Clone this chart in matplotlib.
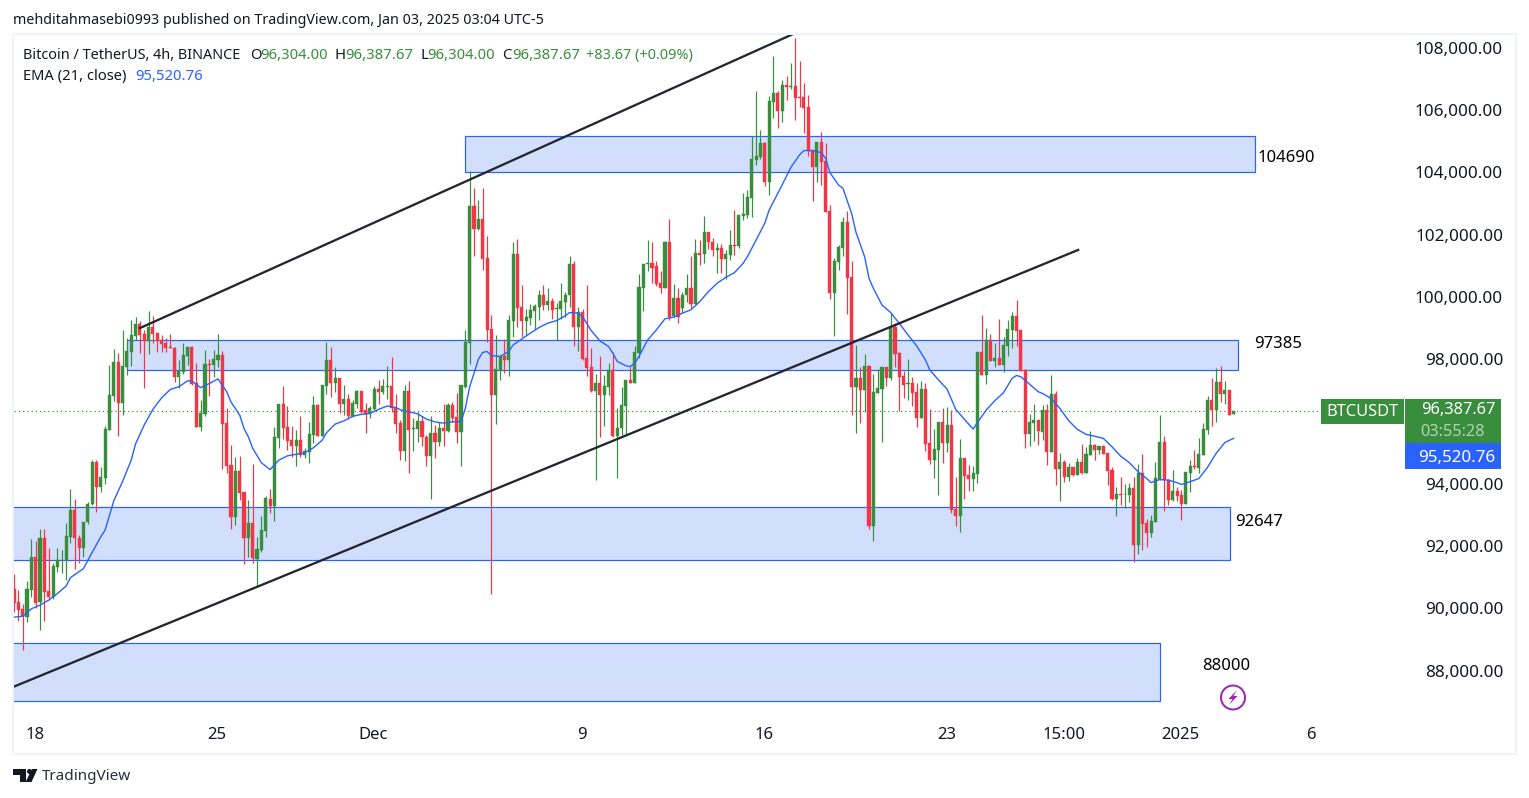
import numpy as np
import matplotlib
matplotlib.use('Agg')
import matplotlib.pyplot as plt
from matplotlib.patches import Rectangle, Polygon, Circle

plt.rcParams['font.family'] = ['Noto Sans', 'DejaVu Sans']

# prices in thousands, one line per ten 4h candles
opens = [
    90.68, 90.27, 90.03, 89.79, 90.65, 91.71, 90.27, 92.32, 90.62, 90.44,
    91.40, 91.61, 91.61, 92.36, 93.22, 92.33, 91.99, 92.84, 93.43, 94.76,
    93.97, 94.25, 95.79, 96.88, 97.97, 96.66, 97.82, 98.30, 98.81, 99.19,
    98.87, 98.65, 99.10, 98.91, 98.67, 98.59, 98.44, 98.43, 97.50, 97.66,
    98.16, 98.46, 97.30, 95.89, 96.30, 97.90, 97.87, 98.03, 98.19, 96.00,
    94.66, 93.00, 94.47, 93.79, 92.33, 92.80, 91.64, 91.95, 92.55, 93.59,
    93.35, 95.54, 96.62, 95.88, 95.46, 95.28, 95.46, 94.98, 95.09, 95.62,
    96.59, 95.60, 97.20, 98.03, 97.30, 97.47, 96.62, 96.78, 96.23, 96.62,
    97.04, 96.43, 96.30, 96.46, 97.10, 97.00, 97.18, 97.20, 96.50, 96.00,
    95.13, 97.04, 95.83, 95.83, 96.08, 95.56, 94.97, 95.69, 95.42, 95.85,
    95.76, 96.60, 96.22, 95.74, 97.18, 98.57, 102.98, 102.23, 102.57, 101.31,
    99.02, 96.92, 97.72, 98.15, 98.04, 99.30, 101.44, 99.74, 99.29, 99.40,
    99.62, 99.75, 100.11, 99.81, 99.93, 99.68, 99.68, 99.91, 100.11, 101.12,
    99.08, 99.57, 98.10, 97.82, 97.04, 97.29, 96.92, 97.18, 97.72, 95.61,
    95.84, 96.57, 97.40, 97.31, 98.27, 100.36, 101.12, 101.14, 101.04, 100.50,
    100.36, 101.81, 99.45, 100.03, 99.70, 100.11, 100.35, 99.84, 101.47, 101.43,
    102.13, 101.84, 101.57, 101.64, 101.28, 101.41, 101.73, 101.70, 102.67, 102.69,
    103.25, 104.46, 104.56, 105.01, 103.75, 106.32, 106.61, 106.03, 106.86, 106.80,
    106.83, 106.47, 106.47, 106.15, 104.78, 104.24, 105.03, 104.42, 102.82, 100.20,
    101.19, 101.64, 102.48, 100.70, 97.17, 97.46, 97.07, 97.84, 92.72, 96.99,
    97.12, 97.81, 97.46, 99.08, 98.27, 97.52, 97.28, 97.29, 97.01, 96.19,
    97.11, 95.36, 94.83, 95.15, 96.05, 95.36, 95.95, 93.24, 93.03, 94.88,
    94.35, 94.22, 94.38, 98.29, 97.55, 98.68, 98.00, 98.09, 97.88, 98.49,
    99.00, 99.45, 99.00, 97.72, 95.66, 96.03, 96.11, 95.73, 96.43, 95.07,
    96.94, 94.53, 94.76, 94.28, 94.60, 94.34, 94.76, 94.41, 94.98, 95.30,
    95.14, 95.27, 95.04, 94.50, 93.57, 93.73, 93.72, 93.71, 93.92, 92.09,
    94.41, 92.80, 92.47, 92.84, 94.21, 95.40, 94.20, 93.54, 93.83, 93.70,
    93.41, 94.41, 94.63, 94.57, 94.98, 95.79, 96.75, 96.43, 97.33, 96.94,
    97.07, 96.304,
]
closes = [
    90.24, 90.01, 89.81, 90.68, 91.71, 90.24, 92.32, 90.60, 90.44, 91.42,
    91.61, 91.63, 92.38, 93.22, 92.31, 92.01, 92.85, 93.43, 94.77, 93.97,
    94.28, 95.82, 96.91, 97.97, 96.66, 97.84, 98.32, 98.83, 99.19, 98.83,
    98.65, 99.10, 98.87, 98.65, 98.55, 98.43, 98.43, 97.50, 97.69, 98.19,
    98.46, 97.26, 95.89, 96.33, 97.90, 97.88, 98.06, 98.19, 95.98, 94.63,
    93.00, 94.47, 93.77, 92.33, 92.80, 91.67, 91.97, 92.58, 93.61, 93.35,
    95.56, 96.62, 95.86, 95.44, 95.28, 95.46, 94.98, 95.11, 95.66, 96.59,
    95.60, 97.23, 98.03, 97.30, 97.47, 96.62, 96.78, 96.23, 96.66, 97.04,
    96.37, 96.30, 96.48, 97.10, 97.00, 97.20, 97.20, 96.48, 95.98, 95.12,
    97.04, 95.79, 95.85, 96.08, 95.55, 94.97, 95.69, 95.42, 95.85, 95.76,
    96.60, 96.19, 95.74, 97.22, 98.60, 102.98, 102.23, 102.57, 101.29, 99.00,
    96.92, 97.74, 98.15, 98.04, 99.32, 101.44, 99.72, 99.30, 99.41, 99.65,
    99.78, 100.11, 99.81, 99.93, 99.65, 99.70, 99.93, 100.13, 101.12, 99.08,
    99.57, 98.06, 97.79, 97.04, 97.29, 96.92, 97.21, 97.72, 95.61, 95.86,
    96.60, 97.40, 97.31, 98.30, 100.39, 101.12, 101.14, 101.00, 100.48, 100.36,
    101.81, 99.43, 100.03, 99.43, 100.13, 100.35, 99.84, 101.47, 101.41, 102.13,
    101.81, 101.57, 101.64, 101.28, 101.44, 101.73, 101.70, 102.69, 102.73, 103.28,
    104.49, 104.59, 105.01, 103.75, 106.35, 106.61, 106.03, 106.86, 106.81, 106.83,
    106.46, 106.45, 106.13, 104.76, 104.24, 105.03, 104.40, 102.80, 100.18, 101.21,
    101.67, 102.48, 100.68, 97.18, 97.46, 97.07, 97.84, 92.72, 97.01, 97.13,
    97.81, 97.46, 99.11, 98.23, 97.50, 97.23, 97.29, 96.99, 96.19, 97.11,
    95.34, 94.83, 95.18, 96.05, 95.36, 95.95, 93.22, 93.03, 94.88, 94.31,
    94.22, 94.40, 98.29, 97.55, 98.68, 98.02, 98.09, 97.88, 98.52, 99.03,
    99.45, 98.97, 97.69, 95.66, 96.05, 96.11, 95.76, 96.43, 95.09, 96.94,
    94.53, 94.76, 94.28, 94.60, 94.34, 94.76, 94.41, 95.02, 95.30, 95.14,
    95.27, 95.02, 94.47, 93.57, 93.73, 93.71, 93.73, 93.92, 92.09, 94.41,
    92.77, 92.47, 92.87, 94.25, 95.40, 94.18, 93.54, 93.83, 93.67, 93.41,
    94.44, 94.63, 94.60, 95.02, 95.82, 96.75, 96.43, 97.33, 96.96, 97.07,
    96.27, 96.388,
]
highs = [
    91.18, 90.65, 90.20, 90.94, 92.28, 92.22, 92.61, 92.61, 91.99, 91.51,
    91.99, 91.95, 92.79, 93.91, 93.57, 92.41, 92.85, 93.48, 94.82, 94.82,
    94.61, 95.92, 97.87, 98.39, 98.25, 99.00, 98.73, 99.32, 99.42, 99.28,
    99.00, 99.60, 99.44, 98.91, 98.83, 98.73, 98.87, 98.46, 98.03, 98.59,
    98.46, 98.48, 97.93, 96.75, 98.37, 98.06, 98.37, 98.87, 98.32, 96.48,
    95.30, 94.93, 94.96, 93.79, 93.54, 94.69, 92.34, 93.02, 93.67, 93.88,
    95.89, 96.62, 97.20, 96.56, 95.92, 95.79, 96.25, 95.20, 96.04, 96.88,
    96.64, 97.23, 98.62, 98.44, 97.80, 97.47, 97.23, 96.96, 96.75, 97.07,
    97.04, 96.67, 96.56, 97.20, 97.41, 97.44, 97.84, 98.12, 96.93, 96.11,
    97.24, 97.37, 96.17, 96.36, 96.24, 95.63, 96.25, 95.95, 96.06, 96.63,
    96.65, 96.70, 96.97, 97.22, 99.00, 104.11, 103.55, 103.18, 103.55, 102.02,
    99.48, 98.84, 98.15, 98.71, 99.48, 101.83, 101.92, 100.45, 99.68, 99.84,
    99.83, 100.29, 100.45, 100.34, 100.02, 99.86, 100.52, 100.23, 101.38, 101.22,
    99.75, 99.68, 100.45, 98.41, 97.59, 98.15, 97.56, 97.93, 98.29, 96.49,
    97.18, 97.40, 97.83, 98.47, 100.80, 101.12, 101.89, 101.83, 101.22, 100.88,
    101.86, 102.57, 100.48, 100.34, 100.23, 100.80, 101.38, 101.92, 101.89, 102.66,
    102.16, 101.95, 101.79, 101.76, 101.57, 102.21, 102.86, 102.69, 103.39, 103.50,
    105.24, 106.67, 105.42, 105.05, 106.52, 107.80, 106.67, 107.03, 107.15, 107.58,
    108.37, 107.63, 106.92, 106.54, 104.78, 105.03, 105.36, 104.99, 103.01, 101.32,
    101.73, 102.64, 102.82, 101.22, 98.52, 97.82, 98.23, 97.88, 97.59, 97.74,
    97.82, 97.81, 99.56, 99.21, 98.30, 97.69, 98.07, 97.48, 97.29, 97.37,
    97.29, 96.46, 95.81, 96.05, 96.51, 96.54, 96.43, 94.27, 95.49, 94.88,
    94.67, 94.63, 98.29, 99.48, 99.05, 98.87, 98.57, 99.34, 98.79, 99.32,
    99.58, 99.96, 99.00, 97.75, 96.30, 96.62, 96.11, 96.59, 96.62, 97.55,
    97.04, 95.04, 94.82, 94.72, 94.61, 94.88, 95.34, 95.25, 95.76, 95.34,
    95.27, 95.30, 95.04, 94.59, 93.97, 94.29, 94.05, 94.10, 94.29, 94.69,
    95.02, 92.92, 93.06, 94.76, 96.27, 95.59, 94.23, 94.50, 93.95, 93.86,
    94.44, 94.82, 95.14, 95.52, 96.03, 96.88, 97.46, 97.77, 97.84, 97.36,
    97.07, 96.388,
]
lows = [
    89.95, 89.66, 88.72, 89.63, 90.44, 90.06, 89.37, 89.66, 90.33, 90.38,
    91.24, 91.21, 90.99, 92.17, 91.33, 91.53, 91.70, 92.76, 93.38, 93.16,
    93.81, 94.05, 95.79, 96.72, 95.60, 96.27, 97.57, 97.84, 98.67, 98.25,
    97.14, 98.22, 98.57, 98.30, 98.30, 98.30, 98.43, 97.34, 97.15, 97.60,
    97.87, 97.23, 95.89, 95.76, 96.23, 96.88, 97.50, 97.82, 94.54, 94.42,
    92.62, 92.74, 93.54, 91.48, 91.72, 91.53, 90.78, 91.88, 92.36, 93.13,
    92.87, 95.20, 95.49, 95.14, 94.93, 94.64, 94.93, 94.88, 94.72, 95.38,
    95.59, 95.59, 96.96, 96.86, 97.02, 96.32, 96.27, 96.13, 96.21, 96.48,
    96.32, 95.70, 96.19, 96.43, 96.64, 96.96, 96.80, 96.37, 95.68, 94.82,
    94.78, 94.42, 95.13, 95.42, 95.29, 94.62, 93.57, 94.88, 95.28, 95.26,
    95.72, 96.06, 95.36, 94.62, 97.15, 97.91, 101.36, 102.21, 100.93, 98.63,
    90.52, 95.99, 97.40, 97.61, 97.53, 98.79, 99.11, 98.79, 98.84, 99.16,
    99.03, 99.32, 99.65, 99.65, 99.36, 98.68, 99.35, 99.43, 99.75, 98.47,
    98.34, 98.04, 97.53, 97.02, 94.17, 95.58, 95.93, 96.92, 95.58, 94.26,
    95.63, 95.63, 97.29, 97.29, 98.09, 99.62, 100.88, 100.50, 100.42, 100.20,
    100.36, 99.32, 99.43, 99.24, 99.54, 99.91, 99.70, 99.84, 101.09, 101.14,
    101.59, 101.36, 100.84, 100.84, 100.63, 101.25, 101.41, 101.62, 102.53, 102.61,
    102.64, 104.30, 104.49, 103.63, 103.33, 105.79, 105.49, 105.69, 106.38, 106.73,
    105.74, 106.15, 105.33, 104.59, 103.14, 103.74, 103.65, 102.80, 99.98, 98.82,
    100.93, 101.38, 99.51, 96.27, 95.70, 96.03, 96.38, 92.61, 92.24, 96.97,
    95.41, 97.20, 97.40, 97.80, 96.40, 96.83, 96.75, 96.56, 95.90, 96.17,
    95.13, 94.70, 94.26, 93.70, 94.72, 95.09, 93.14, 92.72, 92.53, 93.56,
    93.84, 93.84, 94.10, 97.55, 97.27, 98.02, 97.82, 97.88, 97.66, 98.17,
    98.41, 98.50, 97.69, 95.22, 95.26, 95.44, 95.31, 95.47, 94.66, 95.07,
    94.02, 93.52, 94.13, 94.16, 94.31, 94.34, 94.37, 94.41, 94.98, 94.82,
    95.02, 95.02, 94.02, 93.54, 93.04, 93.38, 93.27, 93.49, 91.56, 91.81,
    91.93, 92.04, 92.36, 92.84, 94.18, 93.20, 93.38, 93.52, 93.52, 92.90,
    93.41, 93.79, 94.53, 94.41, 94.98, 95.66, 95.91, 96.05, 96.70, 96.64,
    96.27, 96.304,
]

ema_bars = [
    1, 3, 5, 7, 9, 11, 13, 14, 17, 19, 21, 22, 24, 26, 28, 29, 31, 33, 35, 37,
    39, 41, 42, 44, 46, 48, 50, 51, 53, 54, 55, 56, 58, 60, 62, 64, 66, 68, 70, 72,
    73, 75, 77, 79, 81, 83, 85, 87, 89, 90, 92, 94, 96, 98, 100, 102, 104, 105, 106, 107,
    108, 109, 110, 111, 113, 115, 116, 118, 120, 122, 124, 126, 128, 129, 131, 132, 134, 136, 138, 139,
    140, 142, 143, 144, 145, 147, 149, 151, 153, 155, 157, 159, 161, 163, 165, 167, 169, 170, 172, 174,
    175, 176, 178, 180, 182, 183, 185, 187, 188, 189, 191, 192, 194, 195, 197, 198, 199, 201, 203, 205,
    207, 209, 211, 212, 214, 216, 218, 220, 222, 223, 225, 227, 229, 231, 232, 233, 235, 237, 238, 240,
    242, 244, 246, 248, 250, 252, 254, 256, 258, 260, 262, 263, 265, 267, 269, 270, 272, 274, 276, 278,
    280, 282,
]
ema_values = [
    89.78, 89.81, 90.05, 90.17, 90.33, 90.54, 90.78, 91.05, 91.34, 91.86, 92.36, 92.58, 93.52, 94.13, 94.82, 95.34, 95.95, 96.45, 96.82, 97.09,
    97.18, 97.37, 97.36, 97.15, 97.28, 97.43, 97.02, 96.69, 96.27, 95.84, 95.57, 95.20, 94.74, 94.52, 94.82, 94.96, 95.01, 95.06, 95.22, 95.46,
    95.70, 95.98, 96.08, 96.23, 96.29, 96.32, 96.45, 96.56, 96.51, 96.44, 96.37, 96.31, 96.14, 96.05, 96.01, 96.05, 96.06, 96.49, 97.18, 97.61,
    98.06, 98.28, 98.31, 98.18, 98.15, 98.31, 98.52, 98.71, 98.90, 99.08, 99.22, 99.30, 99.45, 99.56, 99.54, 99.43, 98.98, 98.65, 98.47, 98.25,
    97.99, 97.85, 97.83, 97.93, 98.15, 98.68, 99.00, 99.36, 99.41, 99.54, 99.65, 99.91, 100.23, 100.50, 100.69, 100.84, 101.14, 101.36, 101.89, 102.43,
    102.85, 103.12, 103.66, 104.22, 104.62, 104.76, 104.76, 104.69, 104.51, 104.05, 103.65, 103.55, 102.74, 102.14, 101.35, 100.66, 100.34, 99.80, 99.56, 99.21,
    98.84, 98.49, 98.04, 97.72, 97.40, 97.10, 96.45, 96.13, 95.82, 96.03, 96.43, 96.73, 96.99, 97.45, 97.54, 97.50, 97.26, 97.02, 96.96, 96.80,
    96.48, 96.09, 95.81, 95.65, 95.59, 95.52, 95.25, 94.95, 94.74, 94.45, 94.23, 94.10, 94.20, 94.18, 94.10, 94.04, 94.13, 94.23, 94.59, 95.04,
    95.39, 95.5208,
]

# shaded zones: first bar, last bar, low, high, label
zone_labels = ['104690', '97385', '92647', '88000']
zone_starts = [104.9, 27.0, 0.5, 0.5]
zone_ends = [286.9, 283.1, 281.1, 265.1]
zone_lows = [104.07, 97.71, 91.61, 87.09]
zone_highs = [105.23, 98.67, 93.31, 88.95]
zone_label_x = [1258, 1254, 1235, 1202]
zone_label_y = [158.5, 344.5, 522.5, 665.5]

trend_bars = [(30.0, 181.0), (0.77, 246.2)]
trend_prices = [(99.06, 108.53), (87.54, 101.57)]

# the 96,000 label sits behind the price tag in the original, so it is left out
price_ticks = [88, 90, 92, 94, 98, 100, 102, 104, 106, 108]
time_ticks = [5.84, 47.84, 83.84, 131.84, 173.84, 215.84, 242.84, 269.84, 299.84]
time_labels = ['18', '25', 'Dec', '9', '16', '23', '15:00', '2025', '6']
bold_labels = ['Dec', '2025']

last_price = 96.38767

GREEN = '#388E3C'
RED = '#F23645'
BLUE = '#2962FF'
DARK = '#131722'
ZONE = '#D1DFFD'
PX = 0.72

W, H = 1529, 798
fig = plt.figure(figsize=(W / 100, H / 100), dpi=100)
ax = fig.add_axes([14 / W, 1 - 752 / H, 1501 / W, 717 / H])

bars = np.arange(1, len(opens) + 1)
o = np.array(opens) * 1000
c = np.array(closes) * 1000
h = np.array(highs) * 1000
l = np.array(lows) * 1000
cols = [GREEN if b >= a else RED for a, b in zip(o, c)]

ax.vlines(bars, l, h, colors=cols, linewidth=1.2 * PX, zorder=3, snap=True)
ax.bar(bars, np.abs(c - o), bottom=np.minimum(o, c), width=3.1 / 4.34, color=cols,
       edgecolor=cols, linewidth=0.4 * PX, zorder=4)
ax.plot(ema_bars, np.array(ema_values) * 1000, color=BLUE, linewidth=1.4 * PX, zorder=5)

ax.hlines(last_price * 1000, 0, 301.9, colors=GREEN, linewidth=1.2 * PX,
          linestyles=(0, (1, 2.5)), zorder=2)

for i in range(len(zone_labels)):
    ax.add_patch(Rectangle((zone_starts[i], zone_lows[i] * 1000),
                           zone_ends[i] - zone_starts[i],
                           (zone_highs[i] - zone_lows[i]) * 1000,
                           facecolor=ZONE, edgecolor=BLUE, linewidth=1.2 * PX, zorder=1))

for xs, ys in zip(trend_bars, trend_prices):
    ax.plot(xs, np.array(ys) * 1000, color='#24262F', linewidth=2.3 * PX, zorder=6)

ax.set_xlim(1, 1 + 1501 / 4.34)
ax.set_ylim(108469 - 717 * 32.1, 108469)
for s in ax.spines.values():
    s.set_visible(False)

ax.set_yticks([p * 1000 for p in price_ticks])
ax.set_yticklabels(['{:,.2f}'.format(p * 1000) for p in price_ticks], fontsize=12.3, color=DARK)
ax.tick_params(axis='y', length=0, left=False, right=False, labelleft=False, labelright=True,
               pad=-12 * PX)
for t in ax.get_yticklabels():
    t.set_ha('right')
    t.set_verticalalignment('center')

ax.set_xticks(time_ticks)
ax.set_xticklabels(time_labels, fontsize=12, color=DARK)
ax.tick_params(axis='x', length=0, pad=-25 * PX)
for t in ax.get_xticklabels():
    if t.get_text() in bold_labels:
        t.set_fontweight('semibold')

# overlay in pixel coordinates for the TradingView furniture
ui = fig.add_axes([0, 0, 1, 1], facecolor='none')
ui.set_xlim(0, W)
ui.set_ylim(H, 0)
ui.axis('off')

ui.add_patch(Rectangle((13, 34), 1503, 720, facecolor='none', edgecolor='#F0F3FA', linewidth=2 * PX))

ui.text(13, 20.5, 'mehditahmasebi0993 published on TradingView.com, Jan 03, 2025 03:04 UTC-5',
        fontsize=10.28, color=DARK, va='center', ha='left')

ui.text(23, 55.5, 'Bitcoin / TetherUS, 4h, BINANCE', fontsize=10.4, color=DARK, va='center')
legend_bits = [(250, 'O', DARK), (260, '96,304.00', GREEN), (335, 'H', DARK), (345, '96,387.67', GREEN),
               (420, 'L', DARK), (427, '96,304.00', GREEN), (502, 'C', DARK), (512, '96,387.67', GREEN)]
for x, s, col in legend_bits:
    ui.text(x, 55.5, s, fontsize=10.7, color=col, va='center')
ui.text(586, 55.5, '+83.67 (+0.09%)', fontsize=10.4, color=GREEN, va='center')
ui.text(23, 76.5, 'EMA (21, close)', fontsize=10.6, color=DARK, va='center')
ui.text(135, 76.5, '95,520.76', fontsize=10.7, color=BLUE, va='center')

for i, s in enumerate(zone_labels):
    ui.text(zone_label_x[i], zone_label_y[i], s, fontsize=12, color='black', va='center')

# price tags on the right
ui.add_patch(Rectangle((1321, 399), 83, 25, facecolor=GREEN, linewidth=0))
ui.add_patch(Rectangle((1405, 399), 96, 44, facecolor=GREEN, linewidth=0))
ui.add_patch(Rectangle((1405, 443), 96, 26, facecolor=BLUE, linewidth=0))
ui.text(1362.5, 412.5, 'BTCUSDT', fontsize=11.8, color='white', ha='center', va='center', fontweight='medium')
ui.text(1495, 410.5, '96,387.67', fontsize=11.8, color='white', ha='right', va='center', fontweight='medium')
ui.text(1485, 432.5, '03:55:28', fontsize=11.8, color='#B4D2B6', ha='right', va='center')
ui.text(1495, 457.5, '95,520.76', fontsize=12.2, color='white', ha='right', va='center', fontweight='medium')

# purple lightning badge
ui.add_patch(Circle((1233, 697.5), 12, facecolor='white', edgecolor='#9C27B0', linewidth=2 * PX))
ui.add_patch(Polygon([(1236.5, 690.5), (1228.5, 699), (1232.5, 699), (1229.5, 704.5), (1237.5, 696), (1233.5, 696)],
                     facecolor='#9C27B0', linewidth=0))

# TradingView logo
ui.add_patch(Polygon([(13, 769), (26, 769), (26, 782), (20, 782), (20, 775), (13, 775)],
                     facecolor=DARK, linewidth=0))
ui.add_patch(Circle((29.5, 771.5), 2.5, facecolor=DARK, linewidth=0))
ui.add_patch(Polygon([(32, 769), (37.5, 769), (31.5, 782), (25.5, 782)], facecolor=DARK, linewidth=0))
ui.text(42, 777, 'TradingView', fontsize=11, color='#2A2E39', va='center')

fig.savefig('out.png', dpi=100)
